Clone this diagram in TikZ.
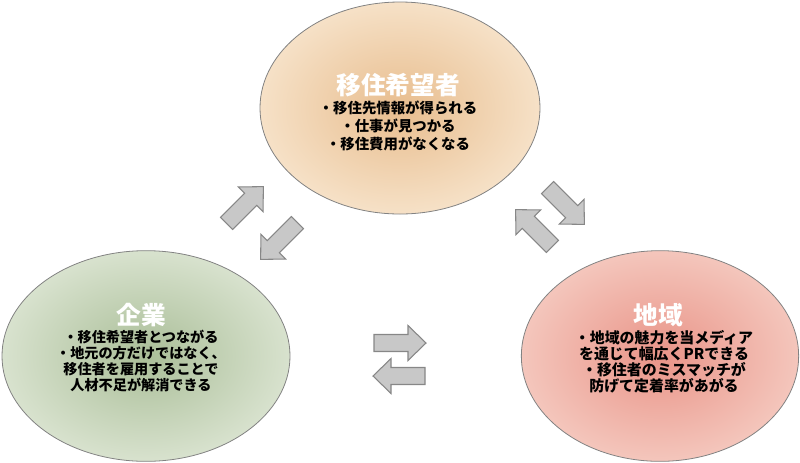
\documentclass[tikz,border=0pt]{standalone}
\usepackage{fontspec}
\setmainfont{Noto Sans CJK JP}
\usepackage{xcolor}
\usepackage{tikz}
\usetikzlibrary{positioning}
\definecolor{peachin}{RGB}{232,189,142}
\definecolor{peachout}{RGB}{246,225,199}
\definecolor{greenin}{RGB}{170,190,152}
\definecolor{greenout}{RGB}{216,226,206}
\definecolor{pinkin}{RGB}{233,148,136}
\definecolor{pinkout}{RGB}{244,198,188}
\definecolor{linegray}{RGB}{130,130,130}
\definecolor{arrowfill}{RGB}{200,200,200}
\definecolor{arrowline}{RGB}{135,135,135}

\begin{document}
\begin{tikzpicture}[x=0.75pt,y=-0.75pt,
  bubble/.style={draw=linegray,line width=0.6pt},
  title/.style={text=white,inner sep=0pt,font=\fontsize{18.5pt}{22pt}\selectfont\bfseries},
  body/.style={align=center,inner sep=0pt,font=\fontsize{10.8pt}{13.5pt}\selectfont\bfseries},
  blockarrow/.style={fill=arrowfill,draw=arrowline,line width=0.8pt,line join=miter}]
  \useasboundingbox (0,0) rectangle (800,462);
  % three bubbles
  \shade[bubble,inner color=peachin,outer color=peachout] (400,108) ellipse [x radius=105pt,y radius=79.5pt];
  \shade[bubble,inner color=greenin,outer color=greenout] (146,356) ellipse [x radius=108pt,y radius=79pt];
  \shade[bubble,inner color=pinkin,outer color=pinkout] (660,356) ellipse [x radius=104pt,y radius=79pt];
  % block arrows: center x / center y / angle
  \foreach \x/\y/\a in {245/205/45, 279/241/225, 566/206/-45, 534/228/135, 400/343/0, 399/376/180}
    \draw[blockarrow,shift={(\x,\y)},rotate=\a]
      (-26,-8.5) -- (8,-8.5) -- (8,-17.5) -- (26,0) -- (8,17.5) -- (8,8.5) -- (-26,8.5) -- cycle;
  % texts
  \node[title] (kibou) at (398,85) {移住希望者};
  \node[body] (kiboutxt) at (398,126) {・移住先情報が得られる\\・仕事が見つかる\\・移住費用がなくなる};
  \node[title] (kigyo) at (141,315) {企業};
  \node[body,font=\fontsize{10.6pt}{12pt}\selectfont\bfseries] (kigyotxt) at (141,361)
    {・移住希望者とつながる\\・地元の方だけではなく、\\移住者を雇用することで\\人材不足が解消できる};
  \node[title] (chiiki) at (658,315) {地域};
  \node[body,font=\fontsize{11.2pt}{12pt}\selectfont\bfseries] (chiikitxt) at (664,362)
    {・地域の魅力を当メディア\\を通じて幅広くPRできる\\・移住者のミスマッチが\\防げて定着率があがる};
\end{tikzpicture}
\end{document}
